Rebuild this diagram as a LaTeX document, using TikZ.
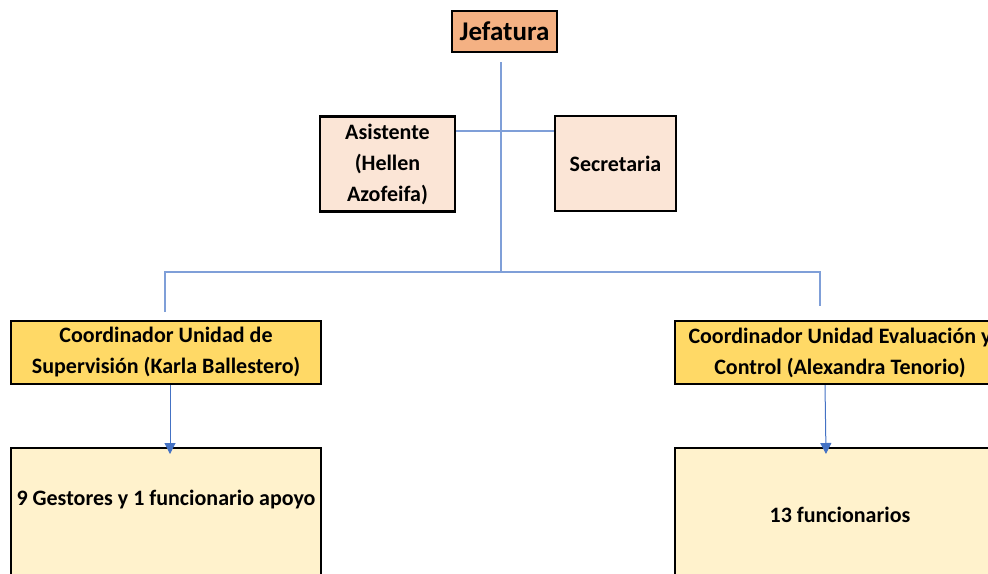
\documentclass[tikz,border=0pt]{standalone}
\usepackage{fontspec}
\setmainfont{Carlito}
\usetikzlibrary{arrows.meta}
\definecolor{jefe}{HTML}{F4B183}
\definecolor{apoyo}{HTML}{FBE5D6}
\definecolor{coord}{HTML}{FFD966}
\definecolor{equipo}{HTML}{FFF2CC}
\definecolor{linea}{HTML}{7F9FD8}
\definecolor{flecha}{HTML}{4472C4}
\begin{document}
\begin{tikzpicture}[x=1pt,y=-1pt,
  caja/.style={draw=black, line width=2.2pt, inner sep=0pt, align=center,
    font=\bfseries\fontsize{22}{31}\selectfont},
  conector/.style={draw=linea, line width=1.3pt},
  flechita/.style={draw=flecha, line width=1pt, -{Triangle[length=11pt,width=11pt]}}]
  \useasboundingbox (0,0) rectangle (988,573);
  \node[caja, fill=jefe, minimum width=105pt, minimum height=41pt,
    font=\bfseries\fontsize{27}{30}\selectfont] (J) at (504.5,31.5) {Jefatura};
  \node[caja, fill=apoyo, minimum width=135pt, minimum height=95pt] (A) at (387.5,164) {Asistente\\(Hellen\\Azofeifa)};
  \node[caja, fill=apoyo, minimum width=121pt, minimum height=95pt] (S) at (615.5,163.5) {Secretaria};
  \node[caja, fill=coord, minimum width=310pt, minimum height=63pt] (C1) at (166,352.5) {Coordinador Unidad de\\Supervisión (Karla Ballestero)};
  \node[caja, fill=coord, minimum width=330pt, minimum height=63pt] (C2) at (840,352.5) {Coordinador Unidad Evaluación y\\Control (Alexandra Tenorio)};
  \node[caja, fill=equipo, minimum width=310pt, anchor=north,
    text height=57pt, text depth=97pt] (E1) at (166,447) {9 Gestores y 1 funcionario apoyo};
  \node[caja, fill=equipo, minimum width=330pt, anchor=north,
    text height=74pt, text depth=80pt] (E2) at (840,447) {13 funcionarios};
  % lineas
  \coordinate (t) at (501,62);
  \coordinate (m) at (501,272);
  \coordinate (l) at (165,272);
  \coordinate (r) at (820,272);
  \coordinate (l2) at (165,312);
  \coordinate (r2) at (820,306);
  \draw[conector] (t) -- (m);
  \draw[conector] (A.east |- 0,131) -- (S.west |- 0,131);
  \draw[conector] (l2) -- (l) -- (r) -- (r2);
  \draw[flechita] ([xshift=4pt]C1.south) -- ([xshift=4pt,yshift=-7pt]E1.north);
  \draw[flechita] ([xshift=-15pt]C2.south) -- ([xshift=-14pt,yshift=-7pt]E2.north);
\end{tikzpicture}
\end{document}
